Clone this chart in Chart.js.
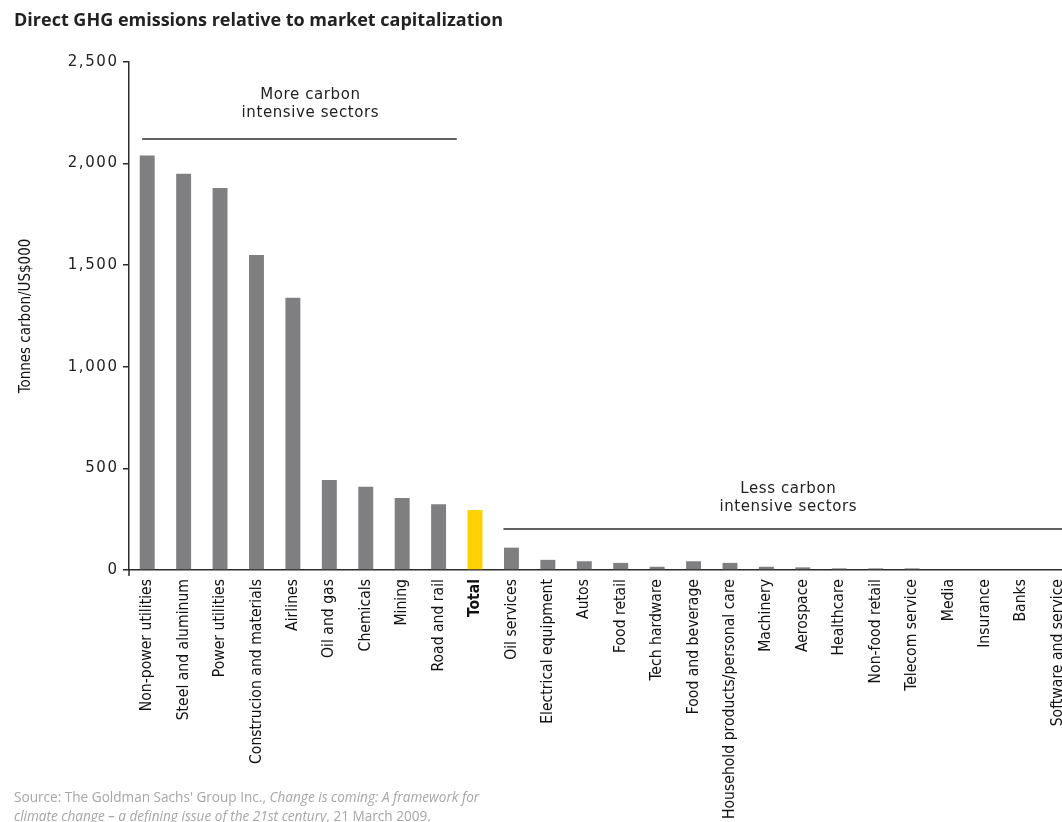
<!DOCTYPE html>
<html>
<head>
<meta charset="utf-8">
<script src="https://cdn.jsdelivr.net/npm/chart.js@4.4.1/dist/chart.umd.min.js"></script>
<style>
  html, body { margin: 0; padding: 0; background: #fff; overflow: hidden; }
  body { width: 1062px; height: 822px; position: relative; }
  #wrap { position: absolute; left: 0; top: 0; width: 1084px; height: 822px; }
  #title { position: absolute; left: 14px; top: 7px; font: bold 18px "Open Sans", sans-serif; color: #222; line-height: 24px; }
  #source { position: absolute; left: 14px; top: 787px; font: 13.6px "Open Sans", sans-serif; color: #a6a6a6; line-height: 19px; white-space: nowrap; }
</style>
</head>
<body>
<div id="wrap"><canvas id="chart"></canvas></div>
<div id="title">Direct GHG emissions relative to market capitalization</div>
<div id="source">Source: The Goldman Sachs' Group Inc., <i>Change is coming: A framework for</i><br><i>climate change – a defining issue of the 21st century</i>, 21 March 2009.</div>
<script>
const sectors = [
    'Non-power utilities', 'Steel and aluminum', 'Power utilities', 'Construcion and materials',
    'Airlines', 'Oil and gas', 'Chemicals', 'Mining', 'Road and rail', 'Total',
    'Oil services', 'Electrical equipment', 'Autos', 'Food retail', 'Tech hardware',
    'Food and beverage', 'Household products/personal care', 'Machinery', 'Aerospace',
    'Healthcare', 'Non-food retail', 'Telecom service', 'Media', 'Insurance', 'Banks',
    'Software and service'
];
const emissions = [
    2040, 1950, 1880, 1550, 1340, 443, 410, 354, 323, 295,
    110, 50, 43, 35, 16, 43, 35, 16, 13, 8, 8, 8, 0, 0, 0, 0
];
const yTicks = [0, 500, 1000, 1500, 2000, 2500];

// sector groups: bracket line runs between category positions, text sits above it
const groups = [
    { lines: ['More carbon', 'intensive sectors'], from: -0.14, to: 8.5, center: 4.48, lineAt: 2121, textAt: [2338, 2249] },
    { lines: ['Less carbon', 'intensive sectors'], from: 9.78, to: 25.5, center: 17.6, lineAt: 202, textAt: [399, 310] }
];

const gray = '#7f7f81';
const yellow = '#ffd100';
const ink = '#2b2b2b';

const groupPlugin = {
    id: 'groups',
    afterDraw(chart) {
        const ctx = chart.ctx;
        const x = chart.scales.x;
        const y = chart.scales.y;
        ctx.save();

        // y axis runs a little past the baseline
        ctx.strokeStyle = ink;
        ctx.lineWidth = 1.5;
        ctx.beginPath();
        ctx.moveTo(y.right, y.bottom);
        ctx.lineTo(y.right, y.bottom + 6);
        ctx.stroke();

        // y tick labels, spaced out like the original
        ctx.fillStyle = '#222';
        ctx.font = '15px "DejaVu Sans", sans-serif';
        ctx.letterSpacing = '1.6px';
        ctx.textAlign = 'right';
        ctx.textBaseline = 'middle';
        y.ticks.forEach(t => {
            ctx.fillText(t.value.toLocaleString('en-US'), y.right - 12 + 1.6, y.getPixelForValue(t.value));
        });

        // group brackets
        ctx.font = '15px "DejaVu Sans", sans-serif';
        ctx.letterSpacing = '0.6px';
        ctx.textAlign = 'center';
        groups.forEach(g => {
            const ly = y.getPixelForValue(g.lineAt);
            ctx.beginPath();
            ctx.moveTo(x.getPixelForValue(g.from), ly);
            ctx.lineTo(x.getPixelForValue(g.to), ly);
            ctx.stroke();
            g.lines.forEach((t, i) => {
                ctx.fillText(t, x.getPixelForValue(g.center), y.getPixelForValue(g.textAt[i]));
            });
        });
        ctx.restore();
    }
};

new Chart(document.getElementById('chart'), {
    type: 'bar',
    data: {
        labels: sectors,
        datasets: [{
            data: emissions,
            backgroundColor: sectors.map(s => s === 'Total' ? yellow : gray),
            barPercentage: 0.82,
            categoryPercentage: 0.5
        }]
    },
    options: {
        responsive: true,
        maintainAspectRatio: false,
        animation: false,
        layout: { padding: { top: 62, right: 8, left: 0, bottom: 0 } },
        plugins: {
            legend: { display: false },
            tooltip: { enabled: false }
        },
        scales: {
            x: {
                offset: true,
                grid: { display: false },
                border: { color: ink, width: 1.5 },
                ticks: {
                    autoSkip: false,
                    maxRotation: 90,
                    minRotation: 90,
                    padding: 1,
                    color: '#111',
                    font: ctx => ({
                        family: '"DejaVu Sans Condensed", "DejaVu Sans", sans-serif',
                        size: 15.6,
                        weight: sectors[ctx.index] === 'Total' ? 'bold' : 'normal'
                    })
                },
                afterFit: scale => { scale.height = 252; }
            },
            y: {
                min: 0,
                max: 2500,
                afterBuildTicks: scale => { scale.ticks = yTicks.map(v => ({ value: v })); },
                grid: { drawOnChartArea: false, drawTicks: true, tickLength: 6, color: ink, lineWidth: 1.5 },
                border: { color: ink, width: 1.5 },
                ticks: { display: false },
                title: {
                    display: true,
                    text: 'Tonnes carbon/US$000',
                    color: '#111',
                    font: { family: '"DejaVu Sans Condensed", "DejaVu Sans", sans-serif', size: 15 },
                    padding: { top: 17, bottom: 0 }
                },
                afterFit: scale => { scale.width = 129; }
            }
        }
    },
    plugins: [groupPlugin]
});
</script>
</body>
</html>
